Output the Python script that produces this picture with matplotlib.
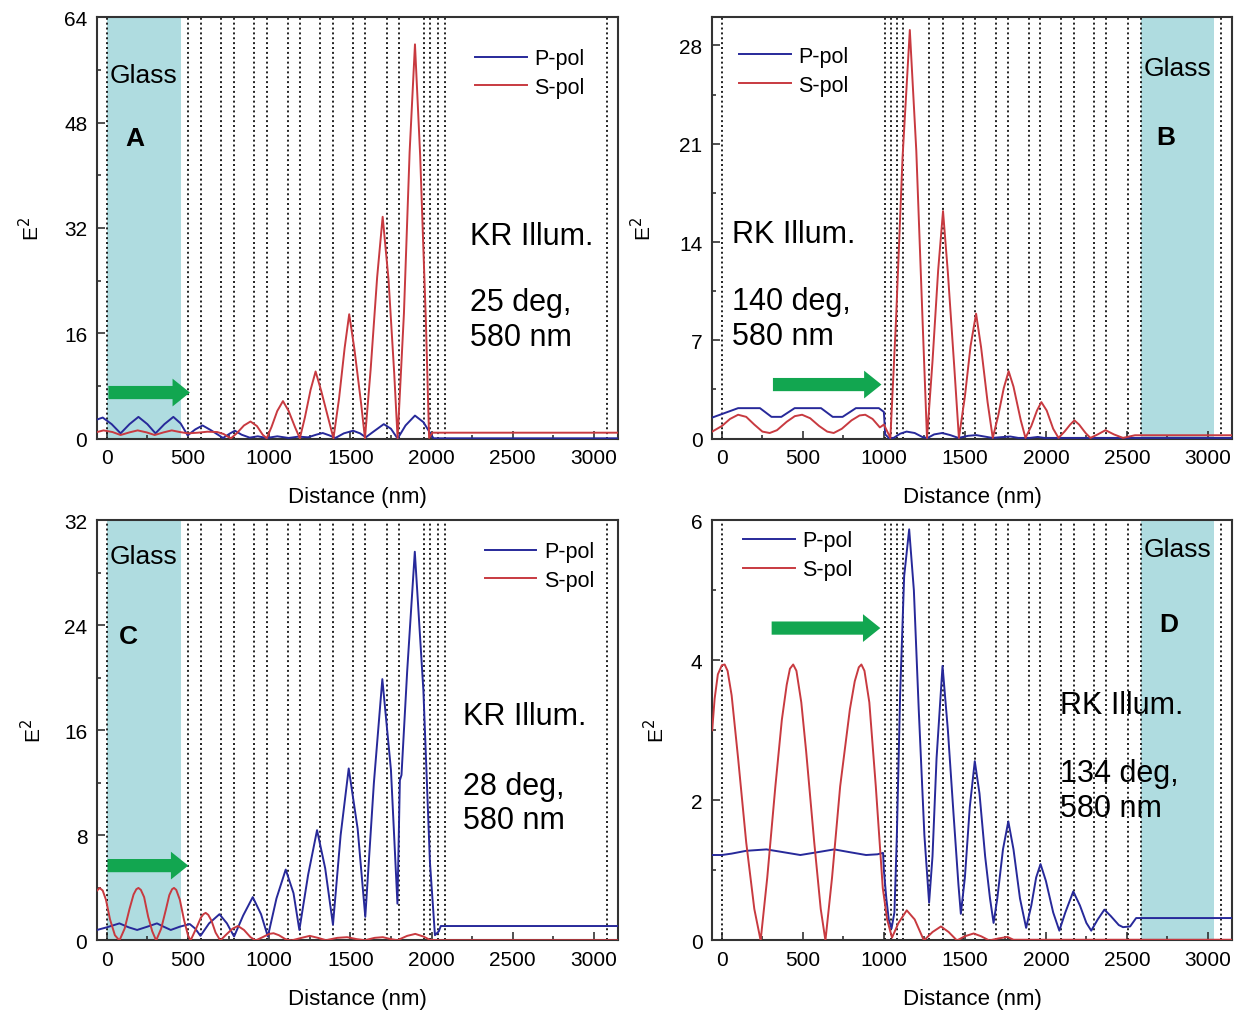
import matplotlib
matplotlib.use("Agg")
import matplotlib.pyplot as plt

plt.rcParams['font.family'] = ['Liberation Sans', 'DejaVu Sans']

# ---- layer boundaries (nm) ----
layers_kr = [0, 499, 581, 702, 784, 908, 986, 1113, 1187, 1314, 1392, 1519, 1591,
             1725, 1797, 1955, 1992, 2037, 2080, 3081]
layers_rk = [0, 1006, 1041, 1078, 1119, 1279, 1362, 1489, 1561, 1694, 1766, 1895,
             1965, 2095, 2171, 2300, 2372, 2505, 2588, 3081]
glass_kr = (0, 456)
glass_rk = (2588, 3040)

# ---- panel A: KR illum, 25 deg ----
a_p_x = [-60, -25, 30, 85, 140, 195, 250, 300, 355, 410, 455, 498, 545, 590, 640, 716,
         760, 789, 830, 880, 930, 985, 1050, 1120, 1180, 1240, 1290, 1330, 1370, 1408,
         1460, 1517, 1560, 1595, 1650, 1706, 1750, 1791, 1840, 1898, 1950, 1990, 2012, 3150]
a_p_y = [2.9, 3.2, 2.2, 0.8, 2.2, 3.3, 2.2, 0.8, 2.2, 3.3, 2.3, 0.5, 1.4, 2.0, 1.3, 0.1,
         0.8, 1.2, 0.6, 0.15, 0.35, 0.1, 0.35, 0.1, 0.3, 0.2, 0.6, 0.85, 0.5, 0.1,
         0.8, 1.2, 0.8, 0.2, 1.2, 2.2, 1.5, 0.0, 2.0, 3.5, 2.5, 0.9, 0.05, 0.05]
a_s_x = [-60, -20, 35, 85, 140, 190, 245, 295, 350, 400, 450, 500, 560, 620, 680, 720,
         745, 765, 800, 845, 885, 925, 960, 985, 1015, 1050, 1085, 1120, 1160, 1189,
         1220, 1255, 1286, 1320, 1365, 1396, 1430, 1465, 1493, 1525, 1565, 1590, 1625,
         1665, 1699, 1735, 1770, 1791, 1830, 1865, 1898, 1930, 1965, 1985, 2005, 3150]
a_s_y = [1.0, 1.25, 1.0, 0.55, 0.95, 1.25, 0.95, 0.55, 0.95, 1.25, 1.0, 0.8, 0.9, 1.05, 1.0, 0.7,
         0.3, 0.05, 0.8, 2.0, 2.6, 1.9, 0.6, 0.05, 1.8, 4.2, 5.7, 4.2, 1.7, 0.05,
         3.2, 7.4, 10.2, 7.3, 3.0, 0.05, 6.0, 13.8, 18.9, 13.6, 5.6, 0.05, 10.5,
         24.5, 33.7, 24.2, 10.0, 0.05, 19.0, 43.5, 59.9, 43.0, 18.0, 0.1, 0.9, 0.9]

# ---- panel B: RK illum, 140 deg ----
b_p_x = [-60, 0, 100, 235, 306, 367, 449, 612, 684, 745, 827, 969, 1000, 1008, 1030,
         1060, 1100, 1140, 1190, 1240, 1270, 1310, 1360, 1410, 1460, 1520, 1570, 1620,
         1670, 1720, 1780, 1830, 1900, 1950, 1990, 2500, 3150]
b_p_y = [1.5, 1.75, 2.17, 2.17, 1.55, 1.55, 2.17, 2.17, 1.55, 1.55, 2.17, 2.17, 1.9, 0.3, 0.05,
         0.05, 0.35, 0.5, 0.4, 0.1, 0.05, 0.3, 0.4, 0.25, 0.05, 0.2, 0.25, 0.15,
         0.05, 0.1, 0.15, 0.05, 0.05, 0.12, 0.05, 0.05, 0.05]
b_s_x = [-60, 0, 50, 100, 150, 200, 250, 295, 340, 400, 450, 495, 545, 600, 650, 690,
         740, 800, 850, 885, 930, 975, 1000, 1040, 1075, 1115, 1160, 1200, 1240, 1266,
         1300, 1335, 1365, 1395, 1435, 1463, 1500, 1535, 1569, 1600, 1640, 1672, 1705,
         1740, 1770, 1800, 1845, 1874, 1910, 1945, 1972, 2005, 2045, 2078, 2115, 2150,
         2176, 2205, 2245, 2275, 2320, 2368, 2420, 2476, 2550, 3150]
b_s_y = [0.5, 0.9, 1.4, 1.7, 1.55, 1.0, 0.5, 0.4, 0.6, 1.2, 1.6, 1.7, 1.45, 0.9, 0.5, 0.4,
         0.7, 1.3, 1.65, 1.7, 1.4, 0.8, 1.0, 0.05, 8.5, 20.0, 29.1, 20.5, 8.0, 0.05,
         5.5, 12.0, 16.2, 11.8, 5.0, 0.05, 3.0, 6.6, 8.9, 6.5, 2.6, 0.05, 1.6,
         3.6, 4.8, 3.7, 1.3, 0.05, 0.9, 2.0, 2.6, 2.0, 0.7, 0.05, 0.5, 1.0,
         1.3, 1.0, 0.4, 0.05, 0.3, 0.6, 0.3, 0.05, 0.24, 0.24]

# ---- panel C: KR illum, 28 deg ----
c_p_x = [-60, 0, 78, 135, 187, 250, 309, 350, 394, 450, 511, 545, 577, 630, 694, 740,
         784, 840, 899, 950, 992, 1045, 1102, 1150, 1186, 1240, 1295, 1345, 1393, 1440,
         1490, 1545, 1592, 1645, 1697, 1750, 1790, 1805, 1815, 1850, 1897, 1950, 1990,
         2021, 2045, 2057, 3150]
c_p_y = [0.8, 1.0, 1.3, 1.0, 0.8, 1.05, 1.3, 1.05, 0.8, 1.05, 1.25, 0.9, 0.35, 1.3, 2.0, 1.3,
         0.3, 1.9, 3.3, 2.0, 0.3, 3.2, 5.4, 3.6, 0.8, 5.0, 8.4, 5.5, 1.2, 8.0,
         13.1, 8.5, 1.8, 12.0, 19.9, 13.0, 2.8, 12.2, 12.6, 20.5, 29.6, 19.0, 6.0,
         0.4, 0.7, 1.1, 1.1]
c_s_x = [-60, -44, -25, -5, 20, 50, 78, 110, 140, 165, 182, 195, 210, 230, 255, 280, 304,
         335, 365, 385, 402, 414, 428, 450, 475, 500, 516, 550, 580, 595, 609, 625, 645,
         670, 699, 740, 775, 808, 845, 885, 917, 960, 1000, 1027, 1060, 1100, 1137,
         1200, 1250, 1300, 1350, 1420, 1480, 1540, 1590, 1650, 1700, 1750, 1790, 1850,
         1900, 1950, 1990, 2050, 3150]
c_s_y = [3.8, 4.0, 3.8, 3.1, 1.6, 0.4, 0.0, 0.9, 2.4, 3.5, 3.9, 4.0, 3.85, 3.3, 1.8, 0.7, 0.0,
         0.9, 2.4, 3.45, 3.9, 4.0, 3.85, 3.1, 1.6, 0.4, 0.0, 0.9, 1.75, 2.0, 2.1, 1.95, 1.5,
         0.6, 0.0, 0.5, 0.9, 1.1, 0.8, 0.25, 0.0, 0.25, 0.5, 0.55, 0.4, 0.1, 0.0,
         0.2, 0.35, 0.2, 0.02, 0.2, 0.25, 0.1, 0.02, 0.2, 0.25, 0.1, 0.02, 0.35,
         0.5, 0.3, 0.05, 0.02, 0.02]

# ---- panel D: RK illum, 134 deg ----
d_p_x = [-60, 0, 60, 150, 275, 380, 484, 590, 693, 790, 890, 960, 995, 1000, 1015, 1030,
         1047, 1065, 1080, 1100, 1125, 1156, 1185, 1215, 1250, 1279, 1300, 1325, 1362,
         1395, 1430, 1460, 1475, 1500, 1530, 1561, 1590, 1625, 1655, 1677, 1700, 1735,
         1768, 1800, 1840, 1878, 1910, 1940, 1967, 2000, 2045, 2083, 2120, 2169, 2210,
         2250, 2280, 2320, 2361, 2400, 2450, 2476, 2520, 2557, 3150]
d_p_y = [1.22, 1.22, 1.24, 1.28, 1.3, 1.26, 1.22, 1.26, 1.3, 1.26, 1.22, 1.23, 1.25, 1.0, 0.6, 0.3,
         0.17, 0.4, 1.5, 3.5, 5.2, 5.87, 5.0, 3.3, 1.5, 0.54, 1.2, 2.6, 3.92,
         3.0, 1.8, 0.8, 0.38, 0.9, 1.9, 2.56, 2.1, 1.2, 0.6, 0.25, 0.6, 1.3,
         1.7, 1.3, 0.6, 0.18, 0.5, 0.9, 1.09, 0.85, 0.4, 0.14, 0.4, 0.7, 0.5,
         0.25, 0.14, 0.3, 0.44, 0.35, 0.22, 0.19, 0.2, 0.32, 0.32]
d_s_x = [-60, -45, -25, 0, 17, 35, 60, 100, 150, 200, 239, 280, 330, 370, 400, 420, 440,
         460, 490, 520, 570, 610, 639, 680, 730, 790, 820, 845, 861, 880, 910, 950, 993,
         1020, 1050, 1090, 1141, 1190, 1247, 1300, 1352, 1400, 1451, 1500, 1554, 1600,
         1650, 1710, 1763, 1800, 3150]
d_s_y = [3.0, 3.45, 3.8, 3.93, 3.94, 3.85, 3.5, 2.6, 1.4, 0.45, 0.0, 0.9, 2.2, 3.15, 3.65, 3.88, 3.94,
         3.85, 3.4, 2.7, 1.4, 0.45, 0.0, 0.9, 2.2, 3.3, 3.7, 3.9, 3.94, 3.85, 3.4, 2.2, 0.75,
         0.3, 0.04, 0.25, 0.43, 0.3, 0.0, 0.12, 0.2, 0.12, 0.0, 0.06, 0.1, 0.06,
         0.0, 0.03, 0.05, 0.01, 0.01]

panels = [
    dict(pos=[0.078, 0.569, 0.419, 0.413], px=a_p_x, py=a_p_y, sx=a_s_x, sy=a_s_y,
         layers=layers_kr, glass=glass_kr, ymax=64, yticks=[0, 16, 32, 48, 64],
         letter='A', letter_pos=(174, 0.713), glass_y=0.862,
         illum='KR Illum.', cond='25 deg,\n580 nm', text_pos=(0.716, 0.480, 0.283),
         arrow=(10, 512, 7.0), leg=(0.725, 0.927), ylab_x=-0.103),
    dict(pos=[0.5725, 0.569, 0.418, 0.413], px=b_p_x, py=b_p_y, sx=b_s_x, sy=b_s_y,
         layers=layers_rk, glass=glass_rk, ymax=30, yticks=[0, 7, 14, 21, 28],
         letter='B', letter_pos=(2737, 0.715), glass_y=0.88,
         illum='RK Illum.', cond='140 deg,\n580 nm', text_pos=(0.038, 0.485, 0.285),
         arrow=(315, 985, 3.85), leg=(0.052, 0.932), ylab_x=-0.110),
    dict(pos=[0.078, 0.077, 0.419, 0.412], px=c_p_x, py=c_p_y, sx=c_s_x, sy=c_s_y,
         layers=layers_kr, glass=glass_kr, ymax=32, yticks=[0, 8, 16, 24, 32],
         letter='C', letter_pos=(131, 0.724), glass_y=0.914,
         illum='KR Illum.', cond='28 deg,\n580 nm', text_pos=(0.702, 0.533, 0.327),
         arrow=(5, 502, 5.7), leg=(0.744, 0.950), ylab_x=-0.100),
    dict(pos=[0.5725, 0.077, 0.418, 0.412], px=d_p_x, py=d_p_y, sx=d_s_x, sy=d_s_y,
         layers=layers_rk, glass=glass_rk, ymax=6, yticks=[0, 2, 4, 6],
         letter='D', letter_pos=(2756, 0.752), glass_y=0.931,
         illum='RK Illum.', cond='134 deg,\n580 nm', text_pos=(0.669, 0.560, 0.357),
         arrow=(307, 978, 4.46), leg=(0.059, 0.976), ylab_x=-0.085),
]

blue = '#27299a'
red = '#c83a40'
green = '#12a650'
glass_col = '#afdce0'

fig = plt.figure(figsize=(12.44, 10.2), dpi=100)

for p in panels:
    ax = fig.add_axes(p['pos'])
    ax.axvspan(p['glass'][0], p['glass'][1], color=glass_col, lw=0, zorder=0)
    for xl in p['layers']:
        ax.axvline(xl, color='#111111', lw=1.3, linestyle=(0, (1.1, 1.6)), zorder=1)

    ax.plot(p['px'], p['py'], color=blue, lw=1.4, label='P-pol', zorder=3)
    ax.plot(p['sx'], p['sy'], color=red, lw=1.4, label='S-pol', zorder=3)

    ax.set_xlim(-60, 3150)
    ax.set_ylim(0, p['ymax'])
    ax.set_xticks([0, 500, 1000, 1500, 2000, 2500, 3000])
    ax.set_xticks([250, 750, 1250, 1750, 2250, 2750], minor=True)
    ax.set_yticks(p['yticks'])
    step = p['yticks'][1] - p['yticks'][0]
    ax.set_yticks([t + step / 2 for t in p['yticks'][:-1]], minor=True)
    ax.tick_params(which='both', direction='in', top=False, right=False,
                   labelsize=15, color='#222222', width=1.1)
    ax.tick_params(which='major', length=6, pad=7)
    ax.tick_params(which='minor', length=3)
    for s in ax.spines.values():
        s.set_linewidth(1.5)
        s.set_color('#333333')

    ax.set_xlabel('Distance (nm)', fontsize=16)
    ax.xaxis.set_label_coords(0.5, -0.112)
    ax.set_ylabel('E$^2$', fontsize=15)
    ax.yaxis.set_label_coords(p['ylab_x'], 0.5)

    gx = (p['glass'][0] + p['glass'][1]) / 2
    ax.text(gx, p['glass_y'], 'Glass', transform=ax.get_xaxis_transform(),
            ha='center', va='center', fontsize=19, zorder=5)
    ax.text(p['letter_pos'][0], p['letter_pos'][1], p['letter'],
            transform=ax.get_xaxis_transform(), ha='center', va='center',
            fontsize=19, fontweight='bold', zorder=5)
    tx, ty1, ty2 = p['text_pos']
    ax.text(tx, ty1, p['illum'], transform=ax.transAxes, ha='left', va='center',
            fontsize=22, zorder=5)
    ax.text(tx, ty2, p['cond'], transform=ax.transAxes, ha='left', va='center',
            fontsize=22, linespacing=1.2, zorder=5)

    x0, x1, ya = p['arrow']
    ax.annotate('', xy=(x1, ya), xytext=(x0, ya),
                arrowprops=dict(arrowstyle='simple,head_length=1.25,head_width=2.0,tail_width=0.95',
                                color=green, lw=0, shrinkA=0, shrinkB=0, mutation_scale=10),
                zorder=4)

    ax.legend(loc='upper left', bbox_to_anchor=p['leg'], frameon=False, fontsize=15.5,
              handlelength=2.4, handletextpad=0.35, labelspacing=0.36,
              borderpad=0, borderaxespad=0)

fig.savefig('out.png', dpi=100)
